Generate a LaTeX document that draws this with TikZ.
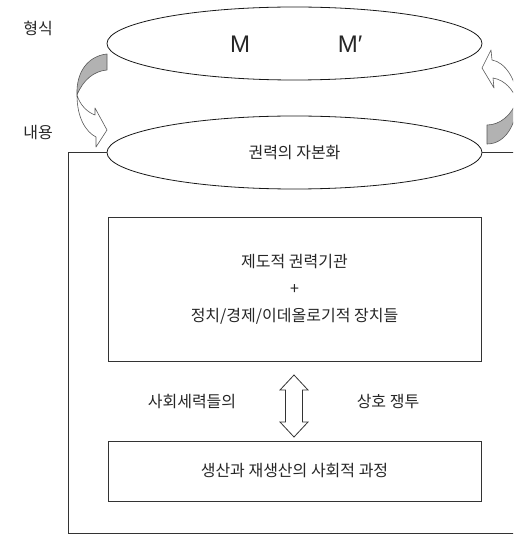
\documentclass[tikz,border=0pt]{standalone}
\usepackage{fontspec}
\setmainfont{Noto Sans CJK KR}
\newfontfamily\latinfont{Liberation Sans}
\usetikzlibrary{shapes.geometric}
\begin{document}
\begin{tikzpicture}[x=1pt,y=-1pt,
  txt/.style={font=\fontsize{16}{19}\selectfont, text=black!85, inner sep=0},
  oval/.style={draw=black!90, ellipse, minimum width=375pt, minimum height=73pt, inner sep=0, outer sep=0, line width=0.8pt},
  panel/.style={draw=black!80, rectangle, minimum width=373pt, inner sep=0, outer sep=0, line width=1pt, text=black!85, align=center},
  bendgray/.style={draw=black!65, fill=black!30, line width=0.6pt, line join=round},
  bendwhite/.style={draw=black!65, fill=white, line width=0.6pt, line join=round},
  frameline/.style={draw=black!80, line width=1pt},
  arrowshape/.style={draw=black!80, fill=white, line width=0.8pt, line join=miter}]
\useasboundingbox (0,0) rectangle (513,537);
\clip (0,0) rectangle (513,537);

% labels
\node[txt] (form) at (38,28) {형식};
\node[txt] (content) at (38,133) {내용};

% ellipses
\node[oval] (top) at (294.5,43.5) {};
\node[oval] (bot) at (294.5,152.5) {};
\node[txt, font=\latinfont\fontsize{24}{28}\selectfont] (m1) at (240,44) {M};
\node[txt, font=\latinfont\fontsize{24}{28}\selectfont] (m2) at (350,44) {M′};
\node[txt] (cap) at (294.5,153) {권력의 자본화};

% frame
\coordinate (frTL) at (68,152.5);
\coordinate (frBL) at (68,533);
\coordinate (frBR) at (520,533);
\coordinate (frTR) at (520,152.5);
\draw[frameline] (bot.west) -- (frTL) -- (frBL) -- (frBR);
\draw[frameline] (bot.east) -- (frTR);

% boxes
\node[panel, minimum height=144pt, font=\fontsize{16}{27}\selectfont] (inst) at (294.5,289)
  {제도적 권력기관\\+\\정치/경제/이데올로기적 장치들};
\node[panel, minimum height=60pt, font=\fontsize{16}{19}\selectfont] (prod) at (294.5,471)
  {생산과 재생산의 사회적 과정};

% middle texts
\node[txt] (forces) at (192,402) {사회세력들의};
\node[txt] (struggle) at (388,402) {상호 쟁투};

% double arrow
\draw[arrowshape] (294,375) -- (308,390) -- (302.5,390) -- (302.5,422) -- (308,422)
  -- (294,437) -- (280,422) -- (285.5,422) -- (285.5,390) -- (280,390) -- cycle;

% left curved arrow
\draw[bendgray] (107,54) .. controls (88,56) and (76,72) .. (77,95)
  .. controls (83,80) and (94,71) .. (107,70) -- cycle;
\draw[bendwhite] (77,95) .. controls (77,118) and (86,132) .. (96,137) -- (96,147)
  -- (107,130) -- (95,108) -- (95,115) .. controls (87,112) and (80,105) .. (77,95) -- cycle;

% right curved arrow
\draw[bendgray] (487,144) .. controls (505,144) and (517,125) .. (517,100)
  .. controls (512,115) and (500,125) .. (487,125) -- cycle;
\draw[bendwhite] (517,100) .. controls (517,80) and (505,62) .. (492,60) -- (491,50)
  -- (482,68) -- (494,88) -- (493,78) .. controls (505,80) and (513,90) .. (517,100) -- cycle;
\end{tikzpicture}
\end{document}
